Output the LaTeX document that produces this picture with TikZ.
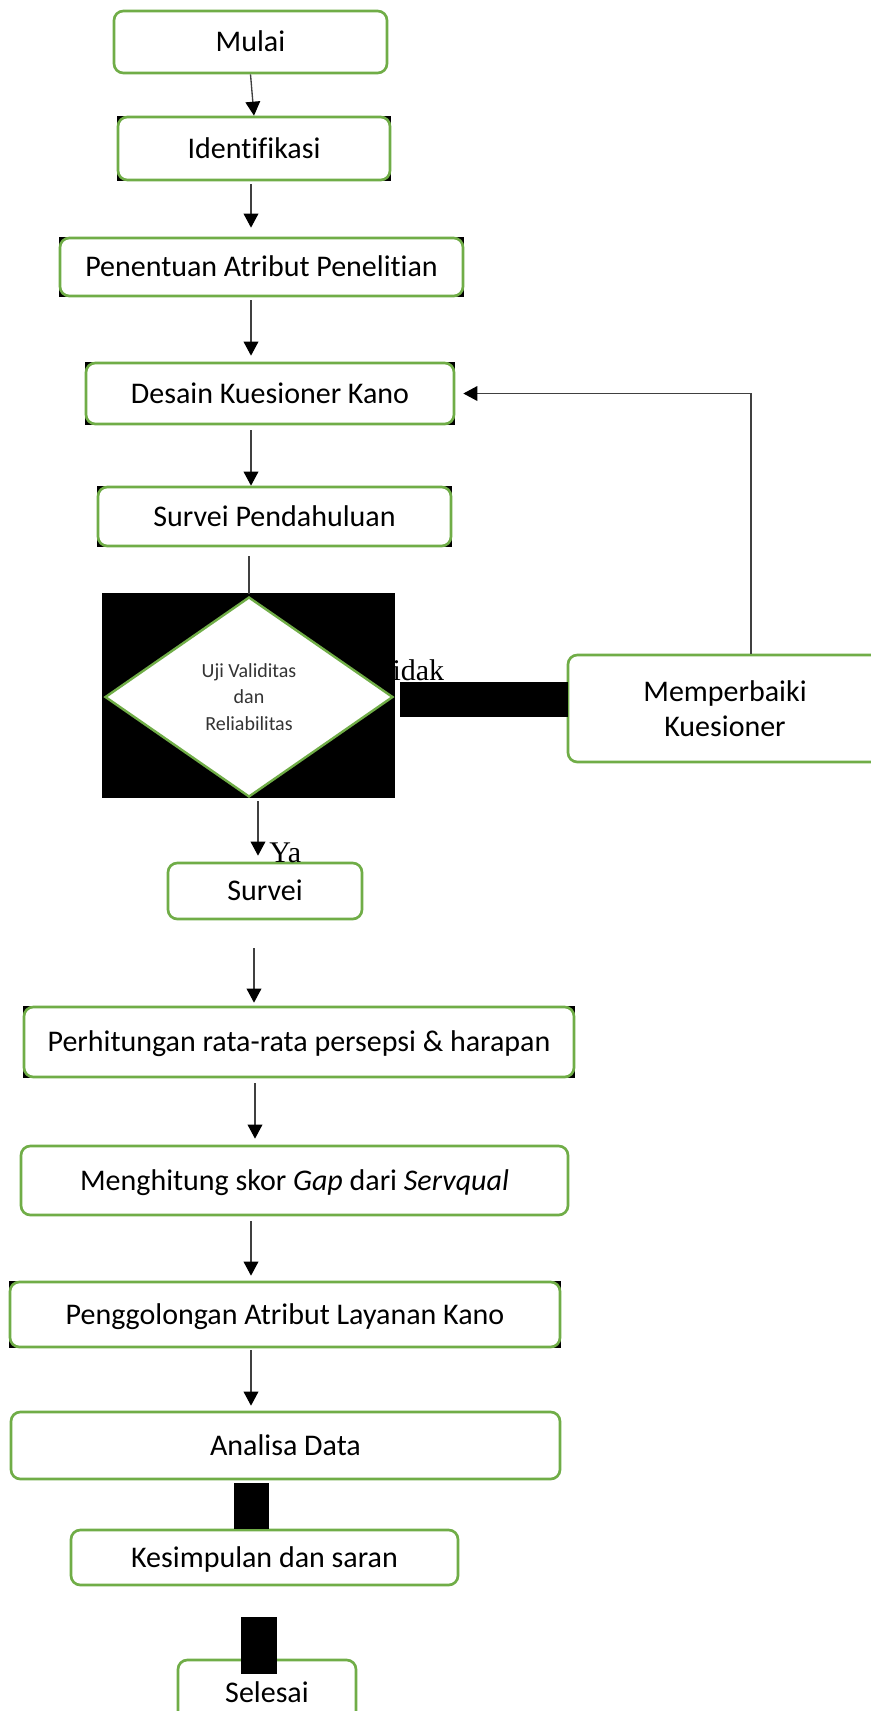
\documentclass[tikz,border=0pt]{standalone}
\usepackage{fontspec}
\setmainfont{Carlito}[Ligatures={NoCommon}]
\newfontfamily\timesfont{Liberation Serif}
\usetikzlibrary{arrows.meta,shapes.geometric}
\definecolor{kgreen}{RGB}{112,173,71}
\begin{document}
\begin{tikzpicture}[x=0.75pt,y=-0.75pt,
  basebox/.style={draw=kgreen,line width=2pt,rounded corners=7pt,fill=white,inner sep=0pt,
    font=\fontsize{22.5pt}{26.25pt}\selectfont},
  box/.style={basebox,text height=14.5pt,text depth=0pt},
  sz/.style 2 args={minimum width=#1*0.75pt,minimum height=#2*0.75pt},
  blk/.style={fill=black},
  conn/.style={draw=black!75,line width=1pt},
  arr/.style={conn,-{Triangle[width=11pt,length=10.5pt,color=black]}},
  lbl/.style={font=\timesfont\fontsize{22.5pt}{27pt}\selectfont,inner sep=0pt,anchor=base west}]
\useasboundingbox (0,0) rectangle (871,1711);
\fill[white] (0,0) rectangle (871,1711);

% label hidden partly behind the black block
\node[lbl] (tidak) at (375,680) {Tidak};

% decision block
\fill[blk] (102,593) rectangle (395,798);
\node[diamond,draw=kgreen,line width=1.8pt,fill=white,minimum width=216pt,minimum height=150pt,
  inner sep=0pt,align=center,font=\fontsize{15pt}{20pt}\selectfont,text=black!80]
  (dec) at (249,697) {Uji Validitas\\dan\\Reliabilitas};

% boxes
\node[box,sz={273}{62}] (mulai) at (250.5,42) {Mulai};
\fill[blk] (117,116) rectangle (391,181);
\node[box,sz={272}{63}] (ident) at (254,148.5) {Identifikasi};
\fill[blk] (59,237) rectangle (464,297);
\node[box,sz={403}{58}] (pen) at (261.5,267) {Penentuan Atribut Penelitian};
\fill[blk] (85,362) rectangle (455,425);
\node[box,sz={368}{61}] (desain) at (270,393.5) {Desain Kuesioner Kano};
\fill[blk] (97,486) rectangle (452,547);
\node[box,sz={353}{59}] (sp) at (274.5,516.5) {Survei Pendahuluan};
\node[basebox,align=center,sz={314}{107}] (memp) at (725,708.5) {Memperbaiki\\Kuesioner};
\node[box,sz={194}{56}] (survei) at (265,891) {Survei};
\fill[blk] (23,1006) rectangle (575,1078);
\node[box,sz={550}{70}] (perh) at (299,1042) {Perhitungan rata-rata persepsi \& harapan};
\node[box,sz={547}{69}] (meng) at (294.5,1180.5) {Menghitung skor \textit{Gap} dari \textit{Servqual}};
\fill[blk] (9,1281) rectangle (561,1348);
\node[box,sz={550}{65}] (peng) at (285,1314.5) {Penggolongan Atribut Layanan Kano};
\node[box,sz={549}{67}] (anal) at (285.5,1445.5) {Analisa Data};
\node[box,sz={387}{55}] (kes) at (264.5,1557.5) {Kesimpulan dan saran};
\node[box,sz={178}{66}] (sel) at (267,1693) {Selesai};

% connectors
\draw[arr] (mulai.south) -- (ident.north);
\draw[arr] ([shift={(-3,3)}]ident.south) -- ([shift={(-10.5,-9)}]pen.north);
\draw[arr] ([shift={(-10.5,3)}]pen.south) -- ([shift={(-19,-6)}]desain.north);
\draw[arr] ([shift={(-19,5)}]desain.south) -- ([shift={(-23.5,0)}]sp.north);
\draw[conn] ([shift={(-25.5,9)}]sp.south) -- ([shift={(0,-2)}]dec.north);
\draw[arr] ([shift={(9,3)}]dec.south) -- ([shift={(-7,-6)}]survei.north);
\draw[arr] ([shift={(-11,28)}]survei.south) -- ([shift={(-45,-3)}]perh.north);
\draw[arr] ([shift={(-44,5)}]perh.south) -- ([shift={(-39.5,-6)}]meng.north);
\draw[arr] ([shift={(-43.5,5)}]meng.south) -- ([shift={(-34,-5)}]peng.north);
\draw[arr] ([shift={(-34,2)}]peng.south) -- ([shift={(-34.5,-5)}]anal.north);
\draw[arr] ([shift={(26,0)}]memp.north) |- ([shift={(8,0)}]desain.east);

% labels
\node[lbl] (ya) at (269,862) {Ya};

% black blocks
\fill[blk] (400,682) rectangle (568,717);
\fill[blk] (234,1483) rectangle (269,1529);
\fill[blk] (241,1617) rectangle (277,1674);
\end{tikzpicture}
\end{document}
